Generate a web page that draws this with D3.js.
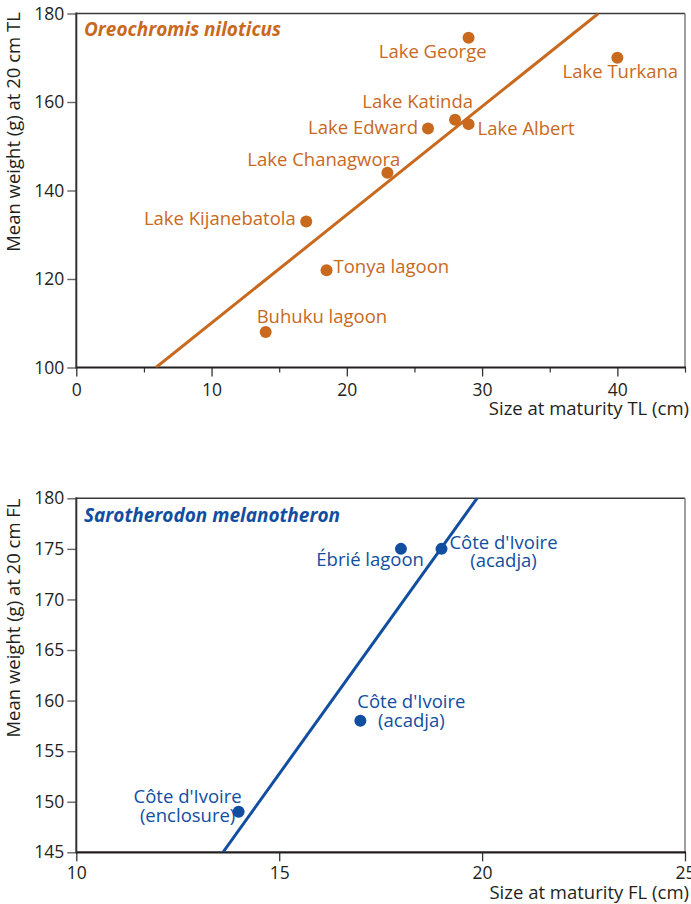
<!DOCTYPE html>
<html><head><meta charset="utf-8">
<script src="https://cdn.jsdelivr.net/npm/d3@7"></script>
<style>
body{margin:0;background:#fff;}
svg{display:block;font-family:"Open Sans",sans-serif;}
</style></head>
<body><svg id="c" width="691" height="904"></svg>
<script>
// ---- Data: Oreochromis niloticus ----
const nilSites = ["Lake George","Lake Turkana","Lake Katinda","Lake Albert","Lake Edward","Lake Chanagwora","Lake Kijanebatola","Tonya lagoon","Buhuku lagoon"];
const nilSize  = [29, 40, 28, 29, 26, 23, 17, 18.5, 14];
const nilWeight= [174.5, 170, 156, 155, 154, 144, 133, 122, 108];
const nilFit   = {intercept: 85.6, slope: 2.446};
const nilXTicks = [0,10,20,30,40];
const nilXMinor = [5,15,25,35,45];
const nilYTicks = [100,120,140,160,180];

// ---- Data: Sarotherodon melanotheron ----
const melSites = [["Ébrié lagoon"],["Côte d'Ivoire","(acadja)"],["Côte d'Ivoire","(acadja)"],["Côte d'Ivoire","(enclosure)"]];
const melSize  = [18, 19, 17, 14];
const melWeight= [175, 175, 158, 149];
const melFit   = {intercept: 68.9, slope: 5.59};
const melXTicks = [10,15,20,25];
const melYTicks = [145,150,155,160,165,170,175,180];

// ---- Label layout (pixel offsets from point) ----
const nilLabelPos = [
  {a:"end",dx:18,dy:20},{a:"middle",dx:3,dy:20.5},{a:"end",dx:18,dy:-11.5},
  {a:"start",dx:9,dy:11},{a:"end",dx:-10,dy:5},{a:"end",dx:13,dy:-7},
  {a:"end",dx:-10.5,dy:3.5},{a:"start",dx:7,dy:3},{a:"start",dx:-9,dy:-9.5}];
const melLabelPos = [
  {a:"end",dx:23,dy:17},{a:"middle",dx:62,dy:0},{a:"middle",dx:51,dy:-12.5},{a:"middle",dx:-51,dy:-8.5}];

const svg = d3.select("#c");
const FS = 18.5, TFS = 17.5;

function panel(cfg){
  const g = svg.append("g");
  const x = d3.scaleLinear().domain(cfg.xd).range([76.3, 685]);
  const y = d3.scaleLinear().domain(cfg.yd).range([cfg.bottom, cfg.top]);
  g.append("line").attr("x1",x.range()[0]).attr("x2",685).attr("y1",cfg.top).attr("y2",cfg.top).attr("stroke","#3a3a3a").attr("stroke-width",1.6);
  g.append("line").attr("x1",685).attr("x2",685).attr("y1",cfg.top).attr("y2",cfg.bottom).attr("stroke","#777").attr("stroke-width",1.4);
  const ya = g.append("g").attr("transform",`translate(${x.range()[0]},0)`)
    .call(d3.axisLeft(y).tickValues(cfg.yticks).tickSize(9).tickPadding(3).tickFormat(d3.format("d")));
  ya.select(".domain").remove();
  ya.selectAll(".tick line").attr("stroke","#666").attr("stroke-width",1.4);
  ya.selectAll("text").attr("font-size",TFS).attr("fill","#231f20").attr("font-family","'Open Sans',sans-serif");
  const xa = g.append("g").attr("transform",`translate(0,${cfg.bottom})`)
    .call(d3.axisBottom(x).tickValues(cfg.xticks).tickSize(9).tickPadding(cfg.xpad).tickFormat(d3.format("d")));
  xa.select(".domain").remove();
  xa.selectAll(".tick line").attr("stroke","#333").attr("stroke-width",1.3);
  xa.selectAll("text").attr("font-size",TFS).attr("fill","#231f20").attr("font-family","'Open Sans',sans-serif");
  if(cfg.xminor){
    const xm = g.append("g").attr("transform",`translate(0,${cfg.bottom})`)
      .call(d3.axisBottom(x).tickValues(cfg.xminor).tickSize(5).tickFormat(""));
    xm.select(".domain").remove();
    xm.selectAll(".tick line").attr("stroke","#333").attr("stroke-width",1.2);
  }
  g.append("line").attr("x1",x.range()[0]).attr("x2",x.range()[0]).attr("y1",cfg.top-1).attr("y2",cfg.bottom+1).attr("stroke","#333").attr("stroke-width",2);
  g.append("line").attr("x1",x.range()[0]).attr("x2",686).attr("y1",cfg.bottom).attr("y2",cfg.bottom).attr("stroke","#231f20").attr("stroke-width",2.2);
  const cid = "clip"+cfg.id;
  svg.append("clipPath").attr("id",cid).append("rect")
    .attr("x",x.range()[0]).attr("y",cfg.top).attr("width",685-x.range()[0]).attr("height",cfg.bottom-cfg.top);
  const x0 = (cfg.yd[0]-cfg.fit.intercept)/cfg.fit.slope, x1=(cfg.yd[1]-cfg.fit.intercept)/cfg.fit.slope;
  g.append("line").attr("clip-path",`url(#${cid})`)
    .attr("x1",x(x0)).attr("y1",y(cfg.fit.intercept+cfg.fit.slope*x0))
    .attr("x2",x(x1)).attr("y2",y(cfg.fit.intercept+cfg.fit.slope*x1))
    .attr("stroke",cfg.color).attr("stroke-width",3);
  g.selectAll("circle.p").data(cfg.xs).join("circle")
    .attr("cx",(d)=>x(d)).attr("cy",(d,i)=>y(cfg.ys[i])).attr("r",6).attr("fill",cfg.color);
  cfg.labels.forEach((lab,i)=>{
    const p = cfg.pos[i];
    const lines = Array.isArray(lab)?lab:[lab];
    const t = g.append("text").attr("font-size",FS).attr("fill",cfg.color).attr("text-anchor",p.a)
      .attr("x",x(cfg.xs[i])+p.dx).attr("y",y(cfg.ys[i])+p.dy);
    lines.forEach((ln,k)=>{
      t.append("tspan").attr("x",x(cfg.xs[i])+p.dx).attr("dy",k===0?0:18.5).text(ln);
    });
  });
  g.append("text").attr("x",84).attr("y",cfg.titleY).attr("font-size",19).attr("font-weight","bold").attr("font-style","italic")
    .attr("fill",cfg.color).text(cfg.title);
  g.append("text").attr("transform",`translate(20,${cfg.ylabY}) rotate(-90)`).attr("text-anchor","middle")
    .attr("font-size",FS).attr("fill","#231f20").text(cfg.ylab);
  g.append("text").attr("x",689).attr("y",cfg.xlabY).attr("text-anchor","end")
    .attr("font-size",FS).attr("fill","#231f20").text(cfg.xlab);
}

panel({id:1, xd:[0,45], yd:[100,180], top:13.5, bottom:367.5, xticks:nilXTicks, xminor:nilXMinor, yticks:nilYTicks, xpad:7,
  fit:nilFit, color:"#c8691e", xs:nilSize, ys:nilWeight, labels:nilSites, pos:nilLabelPos,
  title:"Oreochromis niloticus", titleY:36, ylab:"Mean weight (g) at 20 cm TL", ylabY:132,
  xlab:"Size at maturity TL (cm)", xlabY:415});
panel({id:2, xd:[10,25], yd:[145,180], top:498.3, bottom:852.3, xticks:melXTicks, xminor:null, yticks:melYTicks, xpad:5,
  fit:melFit, color:"#124ea0", xs:melSize, ys:melWeight, labels:melSites, pos:melLabelPos,
  title:"Sarotherodon melanotheron", titleY:522, ylab:"Mean weight (g) at 20 cm FL", ylabY:618,
  xlab:"Size at maturity FL (cm)", xlabY:899});
</script></body></html>
